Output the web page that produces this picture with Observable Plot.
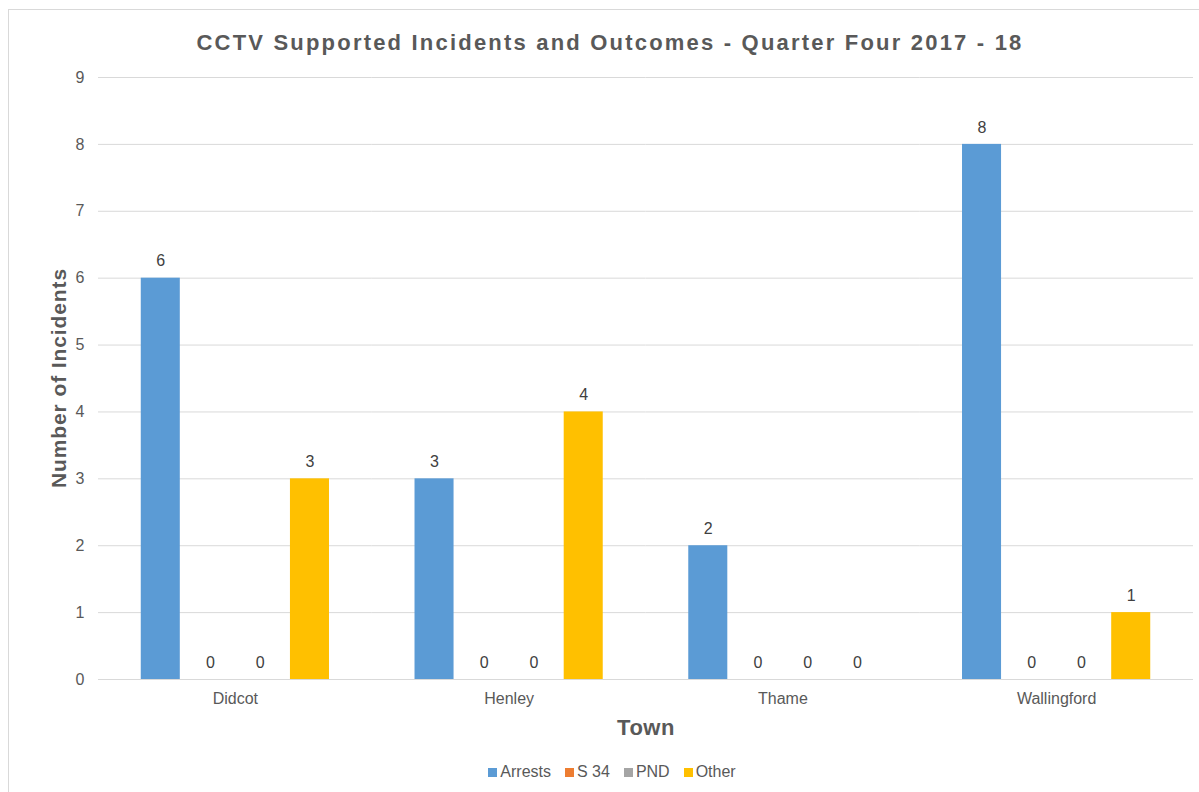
<!DOCTYPE html>
<html>
<head>
<meta charset="utf-8">
<script src="https://cdn.jsdelivr.net/npm/d3@7"></script>
<script src="https://cdn.jsdelivr.net/npm/@observablehq/plot@0.6"></script>
<style>
  html, body { margin: 0; padding: 0; background: #fff; width: 1199px; height: 792px; overflow: hidden; font-family: "Liberation Sans", Arial, sans-serif; color: #595959; }
  #frame { position: absolute; left: 8px; top: 9px; width: 1300px; height: 900px; border: 1px solid #d9d9d9; box-sizing: border-box; }
  #title { position: absolute; left: 0; width: 1220px; top: 31px; text-align: center; font-weight: bold; font-size: 22px; line-height: 24px; letter-spacing: 2.2px; color: #595959; }
  #chart { position: absolute; left: 0; top: 60px; }
  #ylabel { position: absolute; left: 59px; top: 378px; transform: translate(-50%, -50%) rotate(-90deg); white-space: nowrap; font-weight: bold; font-size: 21px; line-height: 22px; letter-spacing: 0.9px; }
  #xlabel { position: absolute; left: 646px; top: 728px; transform: translate(-50%, -50%); white-space: nowrap; font-weight: bold; font-size: 22px; line-height: 22px; letter-spacing: 0.5px; }
  #legend { position: absolute; left: 0; width: 1224px; top: 763px; display: flex; justify-content: center; font-size: 16px; line-height: 18px; }
  .item { display: flex; align-items: center; margin: 0 7px; }
  .sw { width: 9px; height: 9px; margin-right: 3px; }
</style>
</head>
<body>
<div id="frame"></div>
<div id="title">CCTV Supported Incidents and Outcomes - Quarter Four 2017 - 18</div>
<div id="chart"></div>
<div id="ylabel">Number of Incidents</div>
<div id="xlabel">Town</div>
<div id="legend"></div>
<script>
const towns = ["Didcot", "Henley", "Thame", "Wallingford"];
const series = ["Arrests", "S 34", "PND", "Other"];
const arrests = [6, 3, 2, 8];
const s34 = [0, 0, 0, 0];
const pnd = [0, 0, 0, 0];
const other = [3, 4, 0, 1];
const colors = ["#5B9BD5", "#ED7D31", "#A5A5A5", "#FFC000"];
const yTicks = [0, 1, 2, 3, 4, 5, 6, 7, 8, 9];

const seriesValues = [arrests, s34, pnd, other];
const data = [];
towns.forEach((t, i) => {
  series.forEach((s, j) => data.push({town: t, series: s, value: seriesValues[j][i]}));
});

const plot = Plot.plot({
  width: 1199,
  height: 690,
  marginLeft: 98,
  marginRight: 6,
  marginTop: 17,
  marginBottom: 71,
  style: {fontFamily: "'Liberation Sans', Arial, sans-serif", fontSize: "16px", color: "#595959", background: "transparent"},
  fx: {domain: towns, padding: 0, round: false, label: null, axis: "bottom", tickSize: 0, tickPadding: 13},
  x: {domain: series, paddingInner: 0.215, paddingOuter: 0.86, round: false, axis: null},
  y: {domain: [0, 9], ticks: yTicks, tickSize: 0, tickPadding: 14, label: null, tickFormat: d3.format("d")},
  color: {domain: series, range: colors},
  marks: [
    Plot.gridY(yTicks, {stroke: "#d9d9d9", strokeOpacity: 1}),
    Plot.barY(data, {fx: "town", x: "series", y: "value", fill: "series"}),
    Plot.ruleY([0], {stroke: "#d9d9d9"}),
    Plot.text(data, {fx: "town", x: "series", y: "value", text: d => String(d.value), dy: -17, fill: "#404040", fontSize: 16})
  ]
});
document.getElementById("chart").appendChild(plot);

const legend = document.getElementById("legend");
series.forEach((s, i) => {
  const it = document.createElement("div");
  it.className = "item";
  it.innerHTML = `<span class="sw" style="background:${colors[i]}"></span><span>${s}</span>`;
  legend.appendChild(it);
});
</script>
</body>
</html>
